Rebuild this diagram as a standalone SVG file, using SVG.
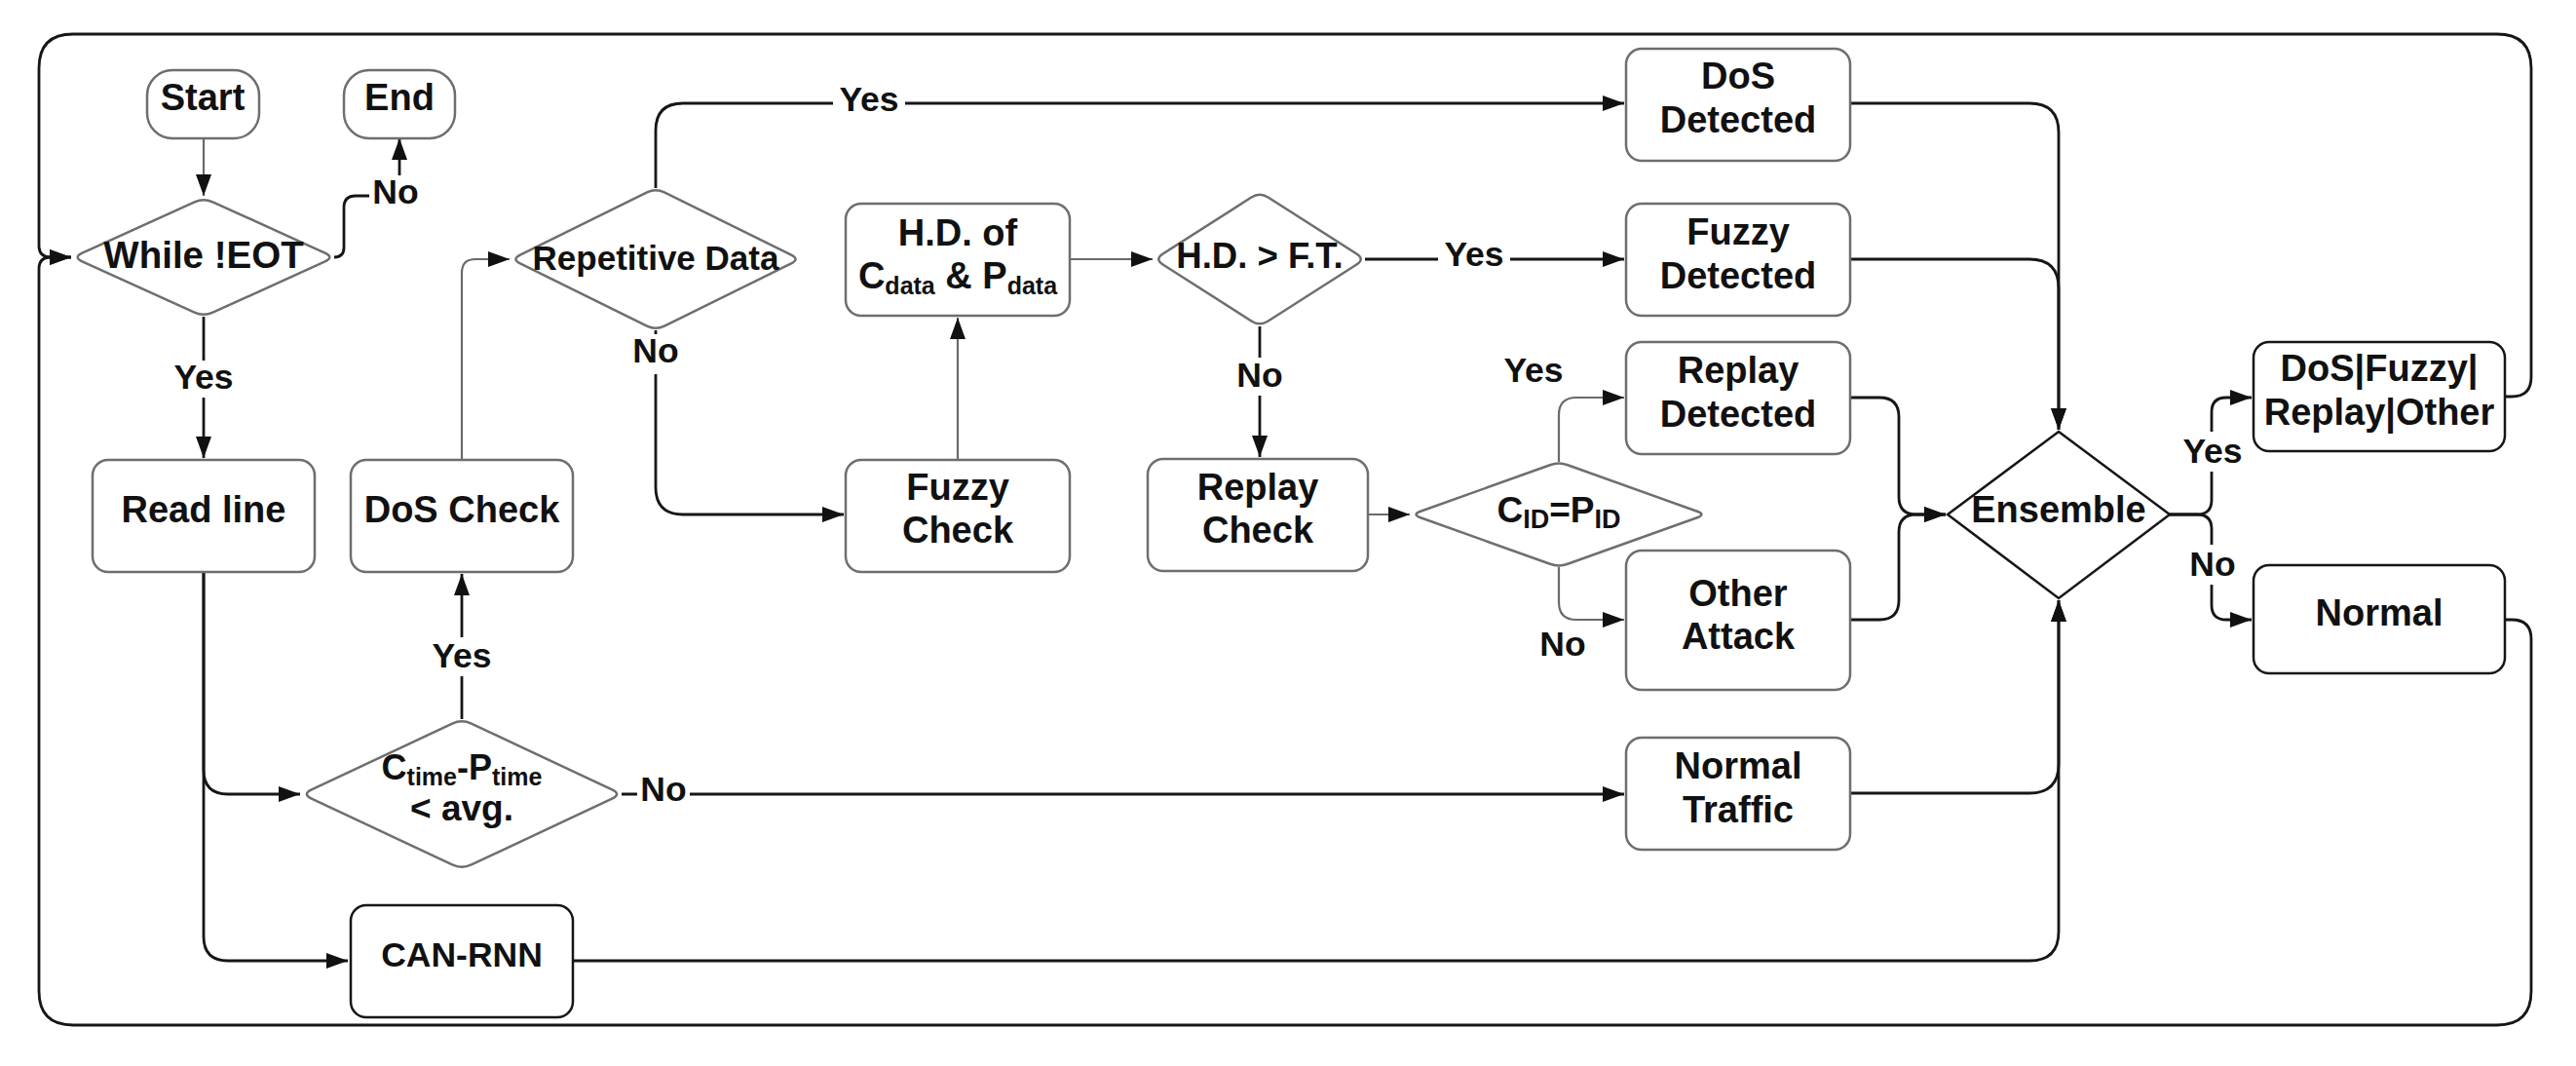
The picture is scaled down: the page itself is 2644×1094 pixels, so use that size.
<svg xmlns="http://www.w3.org/2000/svg" width="2644" height="1094" viewBox="0 0 2644 1094">
<defs>
<marker id="arr" markerUnits="userSpaceOnUse" markerWidth="22" markerHeight="16" refX="22" refY="8" orient="auto" viewBox="0 0 22 16"><path d="M0,0 L22,8 L0,16 z" fill="#111"/></marker>
<style>
.n{fill:#fff;stroke:#6e6e6e;stroke-width:2.5}
.nb{fill:#fff;stroke:#161616;stroke-width:2.5}
.t{font-family:"Liberation Sans",Arial,sans-serif;font-weight:bold;font-size:38px;fill:#111;text-anchor:middle}
.d{font-size:36px}
.c{fill:none;stroke:#161616;stroke-width:2.8}
.g{stroke:#6a6a6a;stroke-width:2.2}
.lb{fill:#fff}
.l{font-family:"Liberation Sans",Arial,sans-serif;font-weight:bold;font-size:35.5px;fill:#111;text-anchor:middle}
.s{font-size:25px}
</style>
</defs>
<rect width="2644" height="1094" fill="#fff"/>

<g id="connectors">
<path class="c g" d="M209,142 V201" marker-end="url(#arr)"/>
<path class="c" d="M343,264 Q353,264 353,254 V213 Q353,201 365,201 H398 Q410,201 410,189 V142" marker-end="url(#arr)"/>
<path class="c" d="M209,325 V470" marker-end="url(#arr)"/>
<path class="c" d="M209,587 V790 Q209,815 234,815 H308" marker-end="url(#arr)"/>
<path class="c" d="M209,587 V961 Q209,986 234,986 H357" marker-end="url(#arr)"/>
<path class="c" d="M474,738 V589" marker-end="url(#arr)"/>
<path class="c" d="M638,815 H1667" marker-end="url(#arr)"/>
<path class="c g" d="M474,472 V280 Q474,266 488,266 H523" marker-end="url(#arr)"/>
<path class="c" d="M673,193 V134 Q673,106 701,106 H1667" marker-end="url(#arr)"/>
<path class="c" d="M673,339 V500 Q673,528 701,528 H866" marker-end="url(#arr)"/>
<path class="c g" d="M983,472 V326" marker-end="url(#arr)"/>
<path class="c g" d="M1098,266 H1183" marker-end="url(#arr)"/>
<path class="c" d="M1401,266 H1667" marker-end="url(#arr)"/>
<path class="c" d="M1293,335 V469" marker-end="url(#arr)"/>
<path class="c g" d="M1404,528 H1447" marker-end="url(#arr)"/>
<path class="c g" d="M1600,474 V426 Q1600,408 1618,408 H1667" marker-end="url(#arr)"/>
<path class="c g" d="M1600,582 V618 Q1600,636 1618,636 H1667" marker-end="url(#arr)"/>
<path class="c" d="M1899,106 H2083 Q2113,106 2113,136 V441" marker-end="url(#arr)"/>
<path class="c" d="M1899,266 H2083 Q2113,266 2113,296 V441" marker-end="url(#arr)"/>
<path class="c" d="M1899,408 H1929 Q1949,408 1949,428 V510 Q1949,528 1967,528 H1997" marker-end="url(#arr)"/>
<path class="c" d="M1899,636 H1929 Q1949,636 1949,616 V546 Q1949,528 1967,528 H1997" marker-end="url(#arr)"/>
<path class="c" d="M1899,814 H2083 Q2113,814 2113,784 V616" marker-end="url(#arr)"/>
<path class="c" d="M588,986 H2083 Q2113,986 2113,956 V616" marker-end="url(#arr)"/>
<path class="c" d="M2227,528 H2255 Q2270,528 2270,513 V423 Q2270,408 2285,408 H2311" marker-end="url(#arr)"/>
<path class="c" d="M2227,528 H2255 Q2270,528 2270,543 V621 Q2270,636 2285,636 H2311" marker-end="url(#arr)"/>
<path class="c" d="M2571,407 H2578 Q2598,407 2598,387 V70 Q2598,35 2563,35 H75 Q40,35 40,70 V252 Q40,264 52,264 H73" marker-end="url(#arr)"/>
<path class="c" d="M2571,636 H2578 Q2598,636 2598,656 V1017 Q2598,1052 2563,1052 H75 Q40,1052 40,1017 V276 Q40,264 52,264 H73" marker-end="url(#arr)"/>

<g id="labels">
<rect class="lb" x="379" y="180" width="54" height="37"/><text class="l" x="406" y="209">No</text>
<rect class="lb" x="172" y="370" width="74" height="38"/><text class="l" x="209" y="399">Yes</text>
<rect class="lb" x="437" y="654" width="74" height="40"/><text class="l" x="474" y="685">Yes</text>
<rect class="lb" x="654" y="794" width="54" height="38"/><text class="l" x="681" y="822">No</text>
<rect class="lb" x="855" y="85" width="74" height="38"/><text class="l" x="892" y="114">Yes</text>
<rect class="lb" x="646" y="343" width="54" height="41"/><text class="l" x="673" y="372">No</text>
<rect class="lb" x="1476" y="244" width="74" height="38"/><text class="l" x="1513" y="273">Yes</text>
<rect class="lb" x="1266" y="367" width="54" height="39"/><text class="l" x="1293" y="397">No</text>
<text class="l" x="1574" y="392">Yes</text>
<text class="l" x="1604" y="673">No</text>
<rect class="lb" x="2234" y="443" width="74" height="41"/><text class="l" x="2271" y="475">Yes</text>
<rect class="lb" x="2244" y="559" width="54" height="41"/><text class="l" x="2271" y="591">No</text>
</g>
</g>

<g id="start"><rect class="n" x="151" y="72" width="115" height="70" rx="26"/><text class="t" x="208" y="113">Start</text></g>
<g id="end"><rect class="n" x="353" y="72" width="114" height="70" rx="26"/><text class="t" x="410" y="113">End</text></g>
<g id="while-eot"><path class="n" d="M218.4,207.3 L333.6,259.7 Q343,264 333.6,268.3 L218.4,320.7 Q209,325 199.6,320.7 L84.4,268.3 Q75,264 84.4,259.7 L199.6,207.3 Q209,203 218.4,207.3 Z"/><text class="t" x="209" y="275" style="font-size:38.5px">While !EOT</text></g>
<g id="read-line"><rect class="n" x="95" y="472" width="228" height="115" rx="16"/><text class="t" x="209" y="536">Read line</text></g>
<g id="dos-check"><rect class="n" x="360" y="472" width="228" height="115" rx="16"/><text class="t" x="474" y="536">DoS Check</text></g>
<g id="time-check"><path class="n" d="M483.8,742.6 L628.2,810.4 Q638,815 628.2,819.6 L483.8,887.4 Q474,892 464.2,887.4 L319.8,819.6 Q310,815 319.8,810.4 L464.2,742.6 Q474,738 483.8,742.6 Z"/><text class="t d" x="474" y="800">C<tspan class="s" dy="6">time</tspan><tspan dy="-6">-P</tspan><tspan class="s" dy="6">time</tspan></text><text class="t" x="474" y="842" style="font-size:37px">&lt; avg.</text></g>
<g id="can-rnn"><rect class="nb" x="360" y="929" width="228" height="115" rx="16"/><text class="t" x="474" y="992" style="font-size:35.5px">CAN-RNN</text></g>
<g id="repetitive-data"><path class="n" d="M681.9,197.4 L812.1,261.6 Q821,266 812.1,270.4 L681.9,334.6 Q673,339 664.1,334.6 L533.9,270.4 Q525,266 533.9,261.6 L664.1,197.4 Q673,193 681.9,197.4 Z"/><text class="t" x="673" y="277" style="font-size:35px">Repetitive Data</text></g>
<g id="hd-of"><rect class="n" x="868" y="209" width="230" height="115" rx="16"/><text class="t" x="983" y="252">H.D. of</text><text class="t" x="983" y="296">C<tspan class="s" dy="6">data</tspan><tspan dy="-6"> &amp; P</tspan><tspan class="s" dy="6">data</tspan></text></g>
<g id="fuzzy-check"><rect class="n" x="868" y="472" width="230" height="115" rx="16"/><text class="t" x="983" y="513">Fuzzy</text><text class="t" x="983" y="557">Check</text></g>
<g id="hd-ft"><path class="n" d="M1301.6,202.5 L1392.4,260.5 Q1401,266 1392.4,271.5 L1301.6,329.5 Q1293,335 1284.4,329.5 L1193.6,271.5 Q1185,266 1193.6,260.5 L1284.4,202.5 Q1293,197 1301.6,202.5 Z"/><text class="t" x="1293" y="275" style="font-size:36.5px">H.D. &gt; F.T.</text></g>
<g id="replay-check"><rect class="n" x="1178" y="471" width="226" height="115" rx="16"/><text class="t" x="1291" y="513">Replay</text><text class="t" x="1291" y="557">Check</text></g>
<g id="id-check"><path class="n" d="M1609.1,477.2 L1741.9,524.8 Q1751,528 1741.9,531.2 L1609.1,578.8 Q1600,582 1590.9,578.8 L1458.1,531.2 Q1449,528 1458.1,524.8 L1590.9,477.2 Q1600,474 1609.1,477.2 Z"/><text class="t" x="1600" y="536" style="font-size:37px">C<tspan style="font-size:27px" dy="6">ID</tspan><tspan dy="-6">=P</tspan><tspan style="font-size:27px" dy="6">ID</tspan></text></g>
<g id="dos-detected"><rect class="n" x="1669" y="50" width="230" height="115" rx="16"/><text class="t" x="1784" y="91">DoS</text><text class="t" x="1784" y="136">Detected</text></g>
<g id="fuzzy-detected"><rect class="n" x="1669" y="209" width="230" height="115" rx="16"/><text class="t" x="1784" y="251">Fuzzy</text><text class="t" x="1784" y="296">Detected</text></g>
<g id="replay-detected"><rect class="n" x="1669" y="351" width="230" height="115" rx="16"/><text class="t" x="1784" y="393">Replay</text><text class="t" x="1784" y="438">Detected</text></g>
<g id="other-attack"><rect class="n" x="1669" y="565" width="230" height="143" rx="16"/><text class="t" x="1784" y="622">Other</text><text class="t" x="1784" y="666">Attack</text></g>
<g id="normal-traffic"><rect class="n" x="1669" y="757" width="230" height="115" rx="16"/><text class="t" x="1784" y="799">Normal</text><text class="t" x="1784" y="844">Traffic</text></g>
<g id="ensemble"><path class="nb" d="M2113,443 L2227,528 L2113,614 L1999,528 Z"/><text class="t" x="2113" y="536">Ensemble</text></g>
<g id="attack-result"><rect class="nb" x="2313" y="351" width="258" height="112" rx="16"/><text class="t" x="2442" y="391">DoS|Fuzzy|</text><text class="t" x="2442" y="436">Replay|Other</text></g>
<g id="normal"><rect class="nb" x="2313" y="580" width="258" height="111" rx="16"/><text class="t" x="2442" y="642">Normal</text></g>
</svg>
